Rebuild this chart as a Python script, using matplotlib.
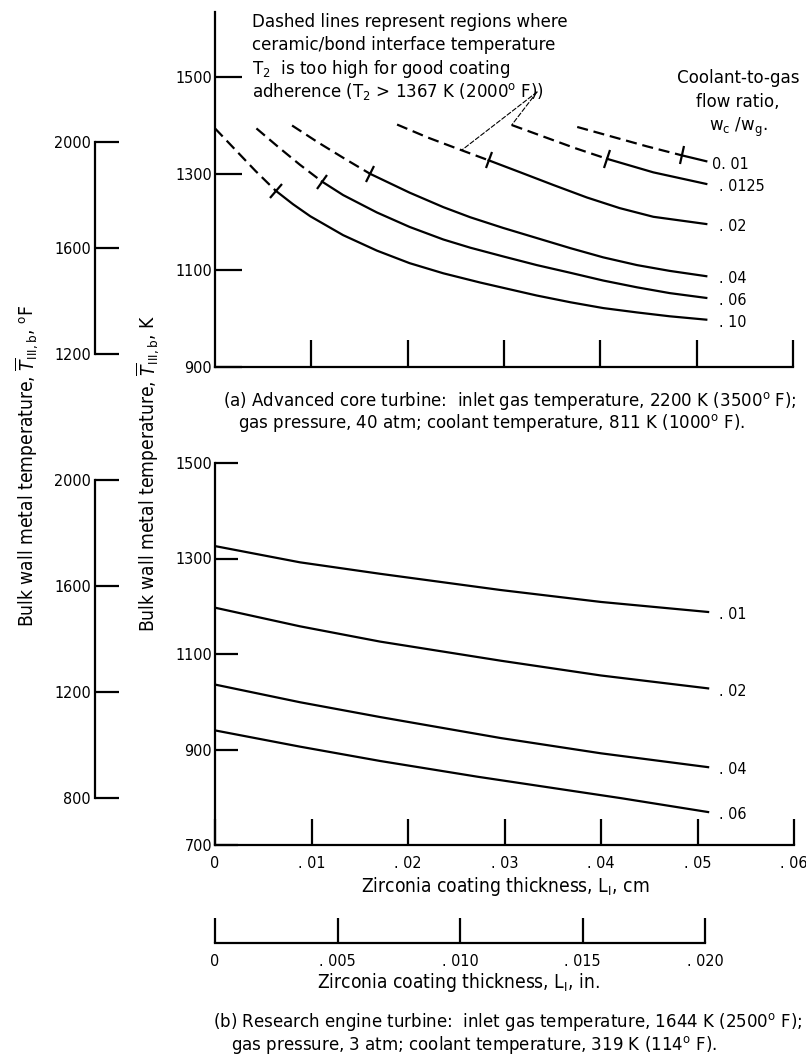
import numpy as np
import matplotlib.pyplot as plt
from matplotlib.markers import MarkerStyle
from matplotlib.transforms import Affine2D

plt.rcParams['font.family'] = ['DejaVu Sans']
plt.rcParams['font.stretch'] = 'condensed'
plt.rcParams['mathtext.fontset'] = 'dejavusans'

# (a) advanced core turbine - coating thickness (cm) vs bulk wall temperature (K)
# tick index = point where the curve goes from dashed to solid
a01_x = [0.0376, 0.0412, 0.0448, 0.0485, 0.0510]
a01_T = [1397, 1377, 1357, 1338, 1326]
a0125_x = [0.0308, 0.0341, 0.0374, 0.0407, 0.0455, 0.0510]
a0125_T = [1401, 1377, 1353, 1331, 1303, 1279]
a02_x = [0.0189, 0.0221, 0.0253, 0.0284, 0.0317, 0.0351, 0.0386, 0.0420, 0.0455, 0.0510]
a02_T = [1402, 1375, 1351, 1328, 1303, 1277, 1251, 1229, 1211, 1196]
a04_x = [0.0080, 0.0107, 0.0134, 0.0161, 0.0202, 0.0237, 0.0265, 0.0299, 0.0334,
         0.0369, 0.0403, 0.0438, 0.0472, 0.0510]
a04_T = [1400, 1365, 1332, 1300, 1261, 1231, 1210, 1188, 1167, 1146, 1127, 1111, 1099, 1088]
a06_x = [0.0043, 0.0066, 0.0088, 0.0111, 0.0133, 0.0168, 0.0202, 0.0237, 0.0265,
         0.0299, 0.0334, 0.0369, 0.0403, 0.0438, 0.0472, 0.0510]
a06_T = [1394, 1355, 1319, 1284, 1256, 1220, 1190, 1164, 1147, 1129, 1111, 1095, 1079,
         1065, 1053, 1043]
a10_x = [0.0, 0.0021, 0.0042, 0.0063, 0.0081, 0.0099, 0.0133, 0.0168, 0.0202, 0.0237,
         0.0275, 0.0299, 0.0334, 0.0369, 0.0403, 0.0438, 0.0472, 0.0510]
a10_T = [1394, 1350, 1306, 1265, 1237, 1212, 1173, 1141, 1115, 1094, 1075, 1064, 1048,
         1034, 1022, 1013, 1005, 998]
a_labels = ['0. 01', '. 0125', '. 02', '. 04', '. 06', '. 10']
a_tick_idx = [3, 3, 3, 3, 3, 3]

# (b) research engine turbine
b_x = [0.0, 0.0088, 0.0171, 0.0296, 0.0400, 0.0511]
b01_T = [1326, 1292, 1268, 1234, 1209, 1188]
b02_T = [1197, 1158, 1126, 1086, 1055, 1028]
b04_T = [1036, 999, 968, 924, 892, 863]
b06_x = [0.0, 0.0088, 0.0171, 0.0272, 0.0421, 0.0511]
b06_T = [940, 906, 876, 843, 798, 769]
b_labels = ['. 01', '. 02', '. 04', '. 06']

a_yticks = [900, 1100, 1300, 1500]
a_fticks = [1200, 1600, 2000]
b_yticks = [700, 900, 1100, 1300, 1500]
b_fticks = [800, 1200, 1600, 2000]
cm_ticks = [0, 0.01, 0.02, 0.03, 0.04, 0.05, 0.06]
cm_ticklabels = ['0', '. 01', '. 02', '. 03', '. 04', '. 05', '. 06']
in_ticks = [0, 0.005, 0.010, 0.015, 0.020]
in_ticklabels = ['0', '. 005', '. 010', '. 015', '. 020']

W, H = 806, 1063
FS = 11.5     # tick / curve labels
TS = 13.3     # notes and captions
LS = 13.8     # axis titles
LW = 1.6


def px_box(x0, y0, x1, y1):
    return [x0 / W, 1 - y1 / H, (x1 - x0) / W, (y1 - y0) / H]


def pts(px):
    return px * 72 / 100


def style_axis(ax, left=True, bottom=True):
    for s in ['top', 'right']:
        ax.spines[s].set_visible(False)
    ax.spines['left'].set_visible(left)
    ax.spines['bottom'].set_visible(bottom)
    for s in ['left', 'bottom']:
        ax.spines[s].set_linewidth(LW)
    ax.set_facecolor('none')


def perp_tick(ax, xs, ys, i):
    p = ax.transData.transform(np.column_stack([xs, ys]))
    j0, j1 = max(i - 1, 0), min(i + 1, len(xs) - 1)
    dx, dy = p[j1] - p[j0]
    ang = np.degrees(np.arctan2(dy, dx))
    m = MarkerStyle('|', transform=Affine2D().rotate_deg(ang))
    ax.plot(xs[i], ys[i], marker=m, ms=13, mew=LW, color='k', ls='none')


fig = plt.figure(figsize=(W / 100, H / 100), dpi=100)

# ---------- panel (a) ----------
axA = fig.add_axes(px_box(215, 12, 793, 367))
style_axis(axA)
axA.set_xlim(0, 0.06)
axA.set_ylim(900, 1635)
axA.set_xticks(cm_ticks[1:])
axA.set_xticklabels([])
axA.set_yticks(a_yticks)
axA.set_yticklabels([str(v) for v in a_yticks], fontsize=FS)
axA.tick_params(axis='x', direction='in', length=pts(27), width=LW)
axA.tick_params(axis='y', direction='in', length=pts(27), width=LW, pad=2)

a_curves = [(a01_x, a01_T), (a0125_x, a0125_T), (a02_x, a02_T),
            (a04_x, a04_T), (a06_x, a06_T), (a10_x, a10_T)]
for (xs, ys), lab, i in zip(a_curves, a_labels, a_tick_idx):
    axA.plot(xs[:i + 1], ys[:i + 1], color='k', lw=LW, ls=(0, (5, 2.6)))
    axA.plot(xs[i:], ys[i:], color='k', lw=LW, solid_joinstyle='round')
    perp_tick(axA, xs, ys, i)
    dx = 4 if lab.startswith('0') else 9
    axA.annotate(lab, xy=(xs[-1], ys[-1]), xytext=(dx, -2), textcoords='offset points',
                 va='center', ha='left', fontsize=FS)

# leader lines from the note to the dashed regions
anchor = (537 / W, 1 - 92 / H)
for xs, ys, xp in [(a02_x, a02_T, 0.0256), (a0125_x, a0125_T, a0125_x[0])]:
    axA.annotate('', xy=(xp, np.interp(xp, xs, ys)), xytext=anchor,
                 textcoords='figure fraction',
                 arrowprops=dict(arrowstyle='-', lw=0.8, ls=(0, (4, 2)), color='k',
                                 shrinkA=0, shrinkB=0))

axAF = fig.add_axes(px_box(95, 142, 120, 354))
style_axis(axAF, bottom=False)
axAF.set_ylim(1200, 2000)
axAF.set_xticks([])
axAF.set_yticks(a_fticks)
axAF.set_yticklabels([str(v) for v in a_fticks], fontsize=FS)
axAF.tick_params(axis='y', direction='in', length=pts(24), width=LW, pad=3)

note = ['Dashed lines represent regions where',
        'ceramic/bond interface temperature',
        r'T$_2$  is too high for good coating',
        r'adherence (T$_2$ > 1367 K (2000$^{\mathrm{o}}$ F))']
for line, yb in zip(note, [27, 50, 74, 97]):
    fig.text(252 / W, 1 - yb / H, line, fontsize=TS, va='baseline', ha='left')

for line, yb in zip(['Coolant-to-gas', 'flow ratio,', r'w$_\mathrm{c}$ /w$_\mathrm{g}$.'],
                    [83, 107, 131]):
    fig.text(738 / W, 1 - yb / H, line, fontsize=TS, va='baseline', ha='center')

fig.text(223 / W, 1 - 406 / H,
         r'(a) Advanced core turbine:  inlet gas temperature, 2200 K (3500$^{\mathrm{o}}$ F);',
         fontsize=TS, va='baseline', ha='left')
fig.text(238 / W, 1 - 428 / H,
         r'gas pressure, 40 atm; coolant temperature, 811 K (1000$^{\mathrm{o}}$ F).',
         fontsize=TS, va='baseline', ha='left')

# ---------- panel (b) ----------
axB = fig.add_axes(px_box(215, 463, 794, 845))
style_axis(axB)
axB.set_xlim(0, 0.06)
axB.set_ylim(700, 1500)
axB.set_xticks(cm_ticks)
axB.set_xticklabels(cm_ticklabels, fontsize=FS)
axB.set_yticks(b_yticks)
axB.set_yticklabels([str(v) for v in b_yticks], fontsize=FS)
axB.tick_params(axis='x', direction='in', length=pts(26), width=LW, pad=8)
axB.tick_params(axis='y', direction='in', length=pts(23), width=LW, pad=2)

b_curves = [(b_x, b01_T), (b_x, b02_T), (b_x, b04_T), (b06_x, b06_T)]
for (xs, ys), lab in zip(b_curves, b_labels):
    axB.plot(xs, ys, color='k', lw=LW, solid_joinstyle='round')
    axB.annotate(lab, xy=(xs[-1], ys[-1]), xytext=(8, -2), textcoords='offset points',
                 va='center', ha='left', fontsize=FS)

axBF = fig.add_axes(px_box(95, 480, 120, 798))
style_axis(axBF, bottom=False)
axBF.set_ylim(800, 2000)
axBF.set_xticks([])
axBF.set_yticks(b_fticks)
axBF.set_yticklabels([str(v) for v in b_fticks], fontsize=FS)
axBF.tick_params(axis='y', direction='in', length=pts(24), width=LW, pad=3)

fig.text(505 / W, 1 - 892 / H, r'Zirconia coating thickness, L$_\mathrm{I}$, cm',
         fontsize=LS, va='baseline', ha='center')

axIn = fig.add_axes(px_box(215, 918, 794, 943))
style_axis(axIn, left=False)
axIn.set_xlim(0, 0.06 / 2.54)
axIn.set_yticks([])
axIn.spines['bottom'].set_bounds(0, 0.02)
axIn.set_xticks(in_ticks)
axIn.set_xticklabels(in_ticklabels, fontsize=FS)
axIn.tick_params(axis='x', direction='in', length=pts(25), width=LW, pad=8)

fig.text(458 / W, 1 - 988 / H, r'Zirconia coating thickness, L$_\mathrm{I}$, in.',
         fontsize=LS, va='baseline', ha='center')

fig.text(213 / W, 1 - 1027 / H,
         r'(b) Research engine turbine:  inlet gas temperature, 1644 K (2500$^{\mathrm{o}}$ F);',
         fontsize=TS, va='baseline', ha='left')
fig.text(231 / W, 1 - 1050 / H,
         r'gas pressure, 3 atm; coolant temperature, 319 K (114$^{\mathrm{o}}$ F).',
         fontsize=TS, va='baseline', ha='left')

# shared y-axis titles
fig.text(27 / W, 1 - 466 / H,
         r'Bulk wall metal temperature, $\overline{T}_{\mathrm{III,b}}$, $^{\mathrm{o}}$F',
         rotation=90, fontsize=LS, va='center', ha='center')
fig.text(148 / W, 1 - 473 / H,
         r'Bulk wall metal temperature, $\overline{T}_{\mathrm{III,b}}$, K',
         rotation=90, fontsize=LS, va='center', ha='center')

fig.savefig('out.png', dpi=100, facecolor='white')
